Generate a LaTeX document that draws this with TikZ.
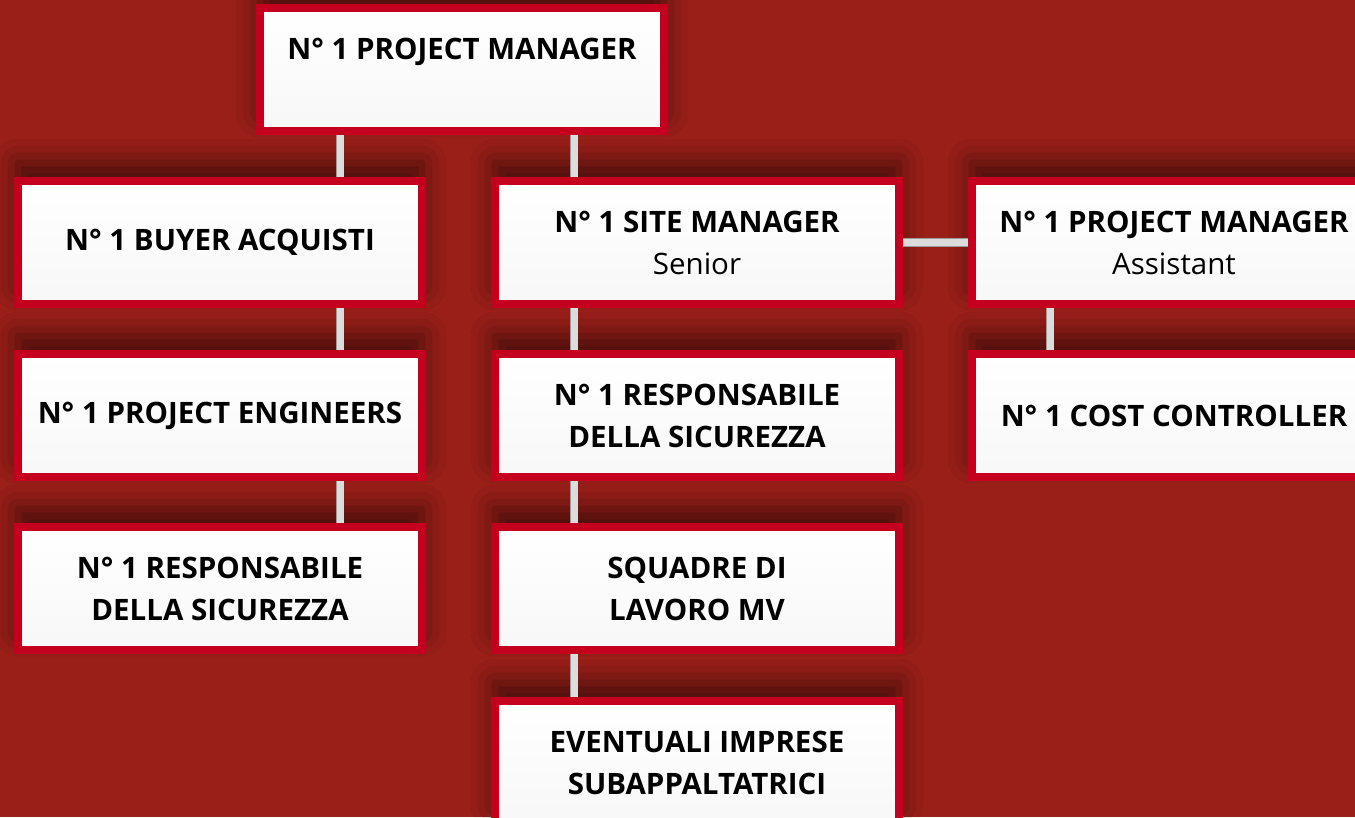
\documentclass[tikz,border=0pt]{standalone}
\usepackage{fontspec}
\setmainfont{Open Sans}
\usetikzlibrary{shadows.blur}
\definecolor{bgred}{HTML}{9A1F18}
\definecolor{boxred}{HTML}{C4001E}
\definecolor{barface}{HTML}{DCDCDC}
\definecolor{baredge}{HTML}{9A9A9A}
\tikzset{
  role/.style={draw=boxred, line width=8pt, top color=white, middle color=white,
    bottom color=black!3, minimum width=404pt, minimum height=123pt,
    inner sep=0pt, align=center, text=black,
    font=\fontsize{29.5}{42}\selectfont\bfseries,
    blur shadow={shadow xshift=0pt, shadow yshift=18pt,
      shadow blur radius=24pt, shadow opacity=55}},
  link/.style={draw=baredge, double=barface, double distance=7pt, line width=0.6pt}
}
\begin{document}
\begin{tikzpicture}[x=1pt, y=-1pt]
        % background
        \fill[bgred] (0,0) rectangle (1355,817);
        \useasboundingbox (0,0) rectangle (1355,817);
        % boxes of the chart
        \node[role] (pm)      at ( 462, 69.5) {N° 1 PROJECT MANAGER\\ \mbox{}};
        \node[role] (buyer)   at ( 220,242.5) {N° 1 BUYER ACQUISTI};
        \node[role] (site)    at ( 697,242.5) {N° 1 SITE MANAGER\\ \mdseries Senior};
        \node[role] (assist)  at (1174,242.5) {N° 1 PROJECT MANAGER\\ \mdseries Assistant};
        \node[role] (eng)     at ( 220,415.5) {N° 1 PROJECT ENGINEERS};
        \node[role] (safetyM) at ( 697,415.5) {N° 1 RESPONSABILE\\ DELLA SICUREZZA};
        \node[role] (cost)    at (1174,415.5) {N° 1 COST CONTROLLER};
        \node[role] (safetyL) at ( 220,588.5) {N° 1 RESPONSABILE\\ DELLA SICUREZZA};
        \node[role] (teams)   at ( 697,588.5) {SQUADRE DI\\ LAVORO MV};
        \node[role] (subcon)  at ( 697,762.5) {EVENTUALI IMPRESE\\ SUBAPPALTATRICI};
        % drawing the links
        \draw[link] ([xshift=120]buyer.north)   -- ([xshift=120]buyer.north |- pm.south);
        \draw[link] ([xshift=-123]site.north)   -- ([xshift=-123]site.north |- pm.south);
        \draw[link] ([xshift=120]buyer.south)   -- ([xshift=120]eng.north);
        \draw[link] ([xshift=120]eng.south)     -- ([xshift=120]safetyL.north);
        \draw[link] ([xshift=-123]site.south)   -- ([xshift=-123]safetyM.north);
        \draw[link] ([xshift=-123]safetyM.south) -- ([xshift=-123]teams.north);
        \draw[link] ([xshift=-123]teams.south)  -- ([xshift=-123]subcon.north);
        \draw[link] ([xshift=-124]assist.south) -- ([xshift=-124]cost.north);
        \draw[link] (site.east) -- (assist.west);
      \end{tikzpicture}
\end{document}
